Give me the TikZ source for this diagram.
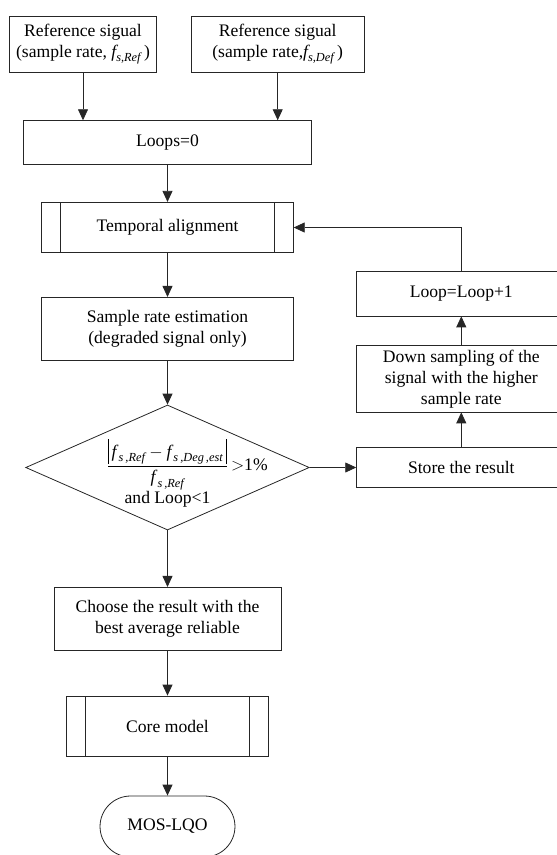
\documentclass[tikz,border=0pt]{standalone}
\usepackage{amsmath}
\usepackage{fontspec}
\setmainfont{Liberation Serif}
\usetikzlibrary{arrows.meta,positioning,shapes.geometric,shapes.misc}
\newcommand\fsub[1]{\textit{f}_{\textit{s,#1}}}
\newcommand\fsubw[1]{\textit{f}_{\,\textit{s\,,#1}}}
\newcommand\absbar{\mathord{\rule[-7pt]{0.8pt}{25pt}}}
\tikzset{
  >={Triangle[length=11pt,width=10pt]},
  proc/.style={draw=black!85,line width=0.8pt,minimum width=#1,align=center,inner sep=1pt,
    font=\fontsize{17.6}{21}\selectfont},
  proc/.default=150pt,
  subproc/.style={proc=#1,path picture={
      \draw[black!85,line width=0.8pt]
        ([xshift=19pt]path picture bounding box.north west) -- ([xshift=19pt]path picture bounding box.south west)
        ([xshift=-19pt]path picture bounding box.north east) -- ([xshift=-19pt]path picture bounding box.south east);}},
  cond/.style={diamond,draw=black!85,line width=0.8pt,minimum width=283.6pt,minimum height=125pt,inner sep=0pt},
  term/.style={rounded rectangle,draw=black!85,line width=0.8pt,minimum width=141.6pt,minimum height=61pt,
    font=\fontsize{17.6}{21}\selectfont},
  txt/.style={font=\fontsize{17.6}{21}\selectfont,align=center,inner sep=0pt},
  flow/.style={->,line width=0.8pt,draw=black!85},
}
\begin{document}
\begin{tikzpicture}[x=1pt,y=-1pt]
  \useasboundingbox (0,0) rectangle (557,855);
  % main column
  \node[proc=147pt,minimum height=56.7pt] (ref) at (83,44.3) {Reference sigual\\(sample rate, $\fsub{Ref}$\,)};
  \node[proc=173.5pt,minimum height=56.7pt] (deg) at (277.7,44.3) {Reference sigual\\(sample rate,$\fsub{Def}$\,)};
  \node[proc=287.7pt,minimum height=43.3pt] (loops) at (167.5,142.3) {Loops=0};
  \node[subproc=251.6pt,minimum height=50.4pt] (align) at (167.5,227.5) {Temporal alignment};
  \node[proc=252.6pt,minimum height=62.7pt] (est) at (167.5,328.7) {Sample rate estimation\\(degraded signal only)};
  \node[cond] (check) at (167.5,467.5) {};
  \node[txt] (checktxt) at (167.5,473) {$\displaystyle\frac{\absbar\,\fsubw{Ref}-\fsubw{Deg\,,est}\,\absbar}{\fsubw{Ref}}\rlap{\,$>$1\%}$\\and Loop<1};
  \node[proc=227pt,minimum height=62.7pt] (pick) at (167.5,618.7) {Choose the result with the\\best average reliable};
  \node[subproc=201.6pt,minimum height=60pt] (core) at (167.5,726) {Core model};
  \node[term] (mos) at (167.5,826.5) {MOS-LQO};
  % loop column
  \node[proc=209.3pt,minimum height=40pt] (store) at (461.3,467.5) {Store the result};
  \node[proc=209.3pt,minimum height=66.3pt] (down) at (461.3,378.8) {Down sampling of the\\signal with the higher\\sample rate};
  \node[proc=209.3pt,minimum height=44.3pt] (inc) at (461.3,293.8) {Loop=Loop+1};
  % connectors
  \draw[flow] (ref) -- (ref |- loops.north);
  \draw[flow] (deg) -- (deg |- loops.north);
  \draw[flow] (loops) -- (align);
  \draw[flow] (align) -- (est);
  \draw[flow] (est) -- (check);
  \draw[flow] (check) -- (store);
  \draw[flow] (store) -- (down);
  \draw[flow] (down) -- (inc);
  \draw[flow] (inc.north) |- (align.east);
  \draw[flow] (check) -- (pick);
  \draw[flow] (pick) -- (core);
  \draw[flow] (core) -- (mos);
\end{tikzpicture}
\end{document}
